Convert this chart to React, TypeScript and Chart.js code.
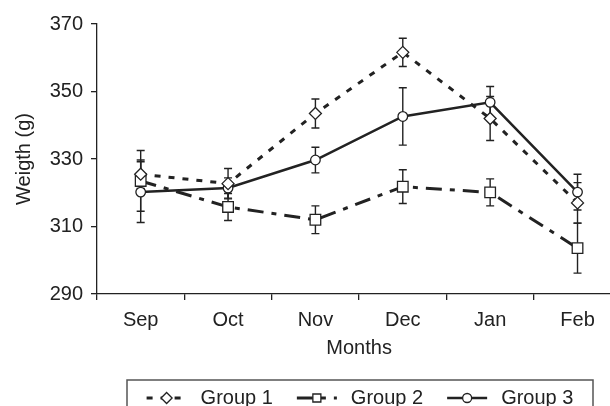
import React, { useEffect, useRef } from "react";
import { Chart, registerables } from "chart.js";

Chart.register(...registerables);

const months = ["Sep", "Oct", "Nov", "Dec", "Jan", "Feb"];
const group1 = [325.5, 322.7, 343.5, 361.6, 342.0, 317.0];
const group1Err = [4.2, 4.5, 4.3, 4.2, 6.5, 6.0];
const group2 = [323.5, 315.8, 312.0, 321.8, 320.1, 303.6];
const group2Err = [9.0, 4.0, 4.1, 5.0, 4.0, 7.4];
const group3 = [320.2, 321.4, 329.7, 342.6, 346.8, 320.2];
const group3Err = [9.0, 3.0, 3.8, 8.5, 4.7, 5.3];
const yTicks = [290, 310, 330, 350, 370];
const seriesNames = ["Group 1", "Group 2", "Group 3"];

const FONT = "'Liberation Sans', Arial, Helvetica, sans-serif";
const INK = "#222";

const errors = [group1Err, group2Err, group3Err];

const errorBarPlugin = {
  id: "errorBars",
  beforeDatasetsDraw(chart: any) {
    const ctx = chart.ctx;
    const y = chart.scales.y;
    ctx.save();
    ctx.strokeStyle = INK;
    ctx.lineWidth = 1.4;
    chart.data.datasets.forEach((ds: any, di: number) => {
      const meta = chart.getDatasetMeta(di);
      meta.data.forEach((pt: any, i: number) => {
        const v = ds.data[i];
        const e = errors[di][i];
        const yt = y.getPixelForValue(v + e);
        const yb = y.getPixelForValue(v - e);
        const x = pt.x;
        ctx.beginPath();
        ctx.moveTo(x, yt);
        ctx.lineTo(x, yb);
        ctx.moveTo(x - 4, yt);
        ctx.lineTo(x + 4, yt);
        ctx.moveTo(x - 4, yb);
        ctx.lineTo(x + 4, yb);
        ctx.stroke();
      });
    });
    ctx.restore();
  },
};

function drawMarker(ctx: CanvasRenderingContext2D, style: string, x: number, y: number, r: number) {
  ctx.beginPath();
  if (style === "rectRot") {
    ctx.moveTo(x, y - r);
    ctx.lineTo(x + r, y);
    ctx.lineTo(x, y + r);
    ctx.lineTo(x - r, y);
    ctx.closePath();
  } else if (style === "rect") {
    ctx.rect(x - r, y - r, 2 * r, 2 * r);
  } else {
    ctx.arc(x, y, r, 0, Math.PI * 2);
  }
  ctx.fillStyle = "#fff";
  ctx.fill();
  ctx.lineWidth = 1.3;
  ctx.strokeStyle = INK;
  ctx.stroke();
}

const legendPlugin = {
  id: "boxLegend",
  afterDraw(chart: any) {
    const ctx = chart.ctx;
    ctx.save();
    const left = 127;
    const right = 593;
    const top = 380;
    ctx.strokeStyle = "#555";
    ctx.lineWidth = 1.5;
    ctx.strokeRect(left, top, right - left, 40);
    ctx.font = `20px ${FONT}`;
    ctx.textBaseline = "middle";
    ctx.fillStyle = INK;
    const sampleW = 40;
    const gapText = 14;
    const gapItem = 24;
    const widths = chart.data.datasets.map((ds: any) => ctx.measureText(ds.label).width);
    const total = widths.reduce((a: number, b: number) => a + b, 0) + 3 * (sampleW + gapText) + 2 * gapItem;
    let x = (left + right) / 2 - total / 2;
    const yc = 398;
    const radii = [5.5, 4, 4.5];
    chart.data.datasets.forEach((ds: any, i: number) => {
      ctx.save();
      ctx.strokeStyle = INK;
      ctx.lineWidth = ds.borderWidth;
      ctx.setLineDash(ds.borderDash || []);
      ctx.beginPath();
      ctx.moveTo(x, yc);
      ctx.lineTo(x + sampleW, yc);
      ctx.stroke();
      ctx.setLineDash([]);
      drawMarker(ctx, ds.pointStyle, x + sampleW / 2, yc, radii[i]);
      ctx.restore();
      ctx.fillText(ds.label, x + sampleW + gapText, yc);
      x += sampleW + gapText + widths[i] + gapItem;
    });
    ctx.restore();
  },
};

export default function App() {
  const ref = useRef<HTMLCanvasElement | null>(null);
  useEffect(() => {
    if (!ref.current) return;
    const common = {
      borderColor: INK,
      pointBackgroundColor: "#fff",
      pointBorderColor: INK,
      pointBorderWidth: 1.3,
      tension: 0,
      fill: false,
    };
    const chart = new Chart(ref.current, {
      type: "line",
      data: {
        labels: months,
        datasets: [
          { ...common, label: seriesNames[0], data: group1, borderWidth: 3, borderDash: [6, 8], pointStyle: "rectRot", pointRadius: 6 },
          { ...common, label: seriesNames[1], data: group2, borderWidth: 3, borderDash: [16, 8, 5, 8], pointStyle: "rect", pointRadius: 7.5 },
          { ...common, label: seriesNames[2], data: group3, borderWidth: 2.5, pointStyle: "circle", pointRadius: 4.8 },
        ],
      },
      options: {
        animation: false,
        responsive: true,
        maintainAspectRatio: false,
        layout: { padding: { left: 8, right: 8, top: 24, bottom: 42 } },
        plugins: { legend: { display: false }, tooltip: { enabled: false } },
        scales: {
          x: {
            type: "category",
            offset: true,
            grid: { display: true, drawOnChartArea: false, offset: true, tickLength: 6, color: INK, lineWidth: 1.3 },
            border: { display: true, color: INK, width: 1.3 },
            ticks: { color: INK, font: { family: FONT, size: 20 }, padding: 8, maxRotation: 0 },
            title: { display: true, text: "Months", color: INK, font: { family: FONT, size: 20 }, padding: { top: 4, bottom: 4 } },
            afterFit(scale: any) {
              scale.height = 70;
            },
          },
          y: {
            min: 290,
            max: 370,
            afterBuildTicks(scale: any) {
              scale.ticks = yTicks.map((v) => ({ value: v }));
            },
            grid: { display: true, drawOnChartArea: false, tickLength: 6, color: INK, lineWidth: 1.3 },
            border: { display: true, color: INK, width: 1.3 },
            ticks: { color: INK, font: { family: FONT, size: 20 }, padding: 8 },
            title: { display: true, text: "Weigth (g)", color: INK, font: { family: FONT, size: 20 }, padding: { top: 4, bottom: 4 } },
            afterFit(scale: any) {
              scale.width = 89;
            },
          },
        },
      },
      plugins: [errorBarPlugin, legendPlugin],
    } as any);
    return () => chart.destroy();
  }, []);
  return (
    <div style={{ position: "fixed", left: 0, top: 0, width: 630, height: 406, background: "#fff" }}>
      <canvas ref={ref} />
    </div>
  );
}
